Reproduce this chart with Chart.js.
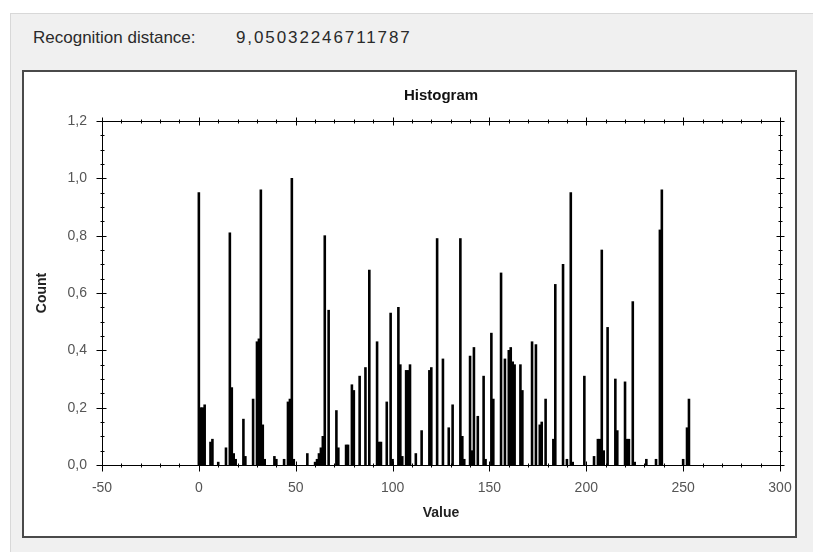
<!DOCTYPE html>
<html>
<head>
<meta charset="utf-8">
<script src="https://cdn.jsdelivr.net/npm/chart.js@4.4.1/dist/chart.umd.min.js"></script>
<style>
  html, body { margin: 0; padding: 0; background: #fff; }
  #fondo {
    position: absolute; left: 10px; top: 13px; width: 803px; height: 539px;
    background: #f0f0f0; border-left: 1px solid #d8d8d8; border-top: 1px solid #d8d8d8;
  }
  .texto {
    position: absolute; top: 28px;
    font-family: "Liberation Sans", Arial, sans-serif; font-size: 17px; color: #2a2a2a;
    white-space: pre;
  }
  #etiqueta { left: 33px; }
  #numero { left: 236px; letter-spacing: 1.9px; }
  #panel {
    position: absolute; left: 22px; top: 70px; width: 771px; height: 464px;
    background: #fff; border: 2px solid #4a4a4a;
  }
  #panel canvas { display: block; }
</style>
</head>
<body>
<div id="fondo"></div>
<div class="texto" id="etiqueta">Recognition distance:</div>
<div class="texto" id="numero">9,05032246711787</div>
<div id="panel"><canvas id="chartHist" width="771" height="464"></canvas></div>
<script>
// bins (value) and normalized counts
const valores = [
  0, 1, 2, 3, 6, 7, 10, 14, 16, 17, 18, 19, 23, 24, 28, 30, 31, 32, 33, 34,
  39, 40, 44, 46, 47, 48, 49, 56, 60, 61, 62, 63, 64, 65, 67, 71, 72, 76, 77, 79,
  80, 83, 86, 88, 92, 93, 94, 97, 99, 100, 103, 104, 105, 107, 108, 109, 112, 115, 119, 120,
  123, 126, 129, 131, 135, 136, 137, 140, 141, 142, 144, 147, 148, 151, 152, 156, 158, 160, 161, 162,
  163, 166, 167, 172, 174, 176, 177, 179, 183, 184, 188, 190, 192, 193, 199, 204, 206, 207, 208, 209,
  211, 215, 216, 220, 221, 222, 224, 225, 231, 236, 238, 239, 250, 252, 253
];
const conteos = [
  0.95, 0.20, 0.20, 0.21, 0.08, 0.09, 0.01, 0.06, 0.81, 0.27, 0.04, 0.02, 0.16, 0.03, 0.23, 0.43, 0.44, 0.96, 0.14, 0.02,
  0.03, 0.02, 0.02, 0.22, 0.23, 1.00, 0.02, 0.04, 0.01, 0.02, 0.04, 0.06, 0.10, 0.80, 0.54, 0.19, 0.06, 0.07, 0.07, 0.28,
  0.26, 0.31, 0.34, 0.68, 0.43, 0.08, 0.08, 0.22, 0.53, 0.02, 0.55, 0.35, 0.03, 0.33, 0.33, 0.35, 0.04, 0.12, 0.33, 0.34,
  0.79, 0.37, 0.13, 0.21, 0.79, 0.10, 0.02, 0.38, 0.05, 0.41, 0.17, 0.31, 0.02, 0.46, 0.23, 0.67, 0.37, 0.40, 0.41, 0.36,
  0.35, 0.35, 0.26, 0.43, 0.42, 0.14, 0.15, 0.23, 0.09, 0.63, 0.70, 0.02, 0.95, 0.01, 0.31, 0.03, 0.09, 0.09, 0.75, 0.05,
  0.48, 0.30, 0.12, 0.29, 0.09, 0.09, 0.57, 0.01, 0.02, 0.02, 0.82, 0.96, 0.02, 0.13, 0.23
];

const EJE_X = { min: -50, max: 300, paso: 50, menor: 10 };
const EJE_Y = { min: 0, max: 1.2, paso: 0.2, menor: 0.05 };

const FUENTE = '"Liberation Sans", Arial, sans-serif';

// marco del area de grafico con marcas mayores y menores en los cuatro lados
const marcoConMarcas = {
  id: 'marcoConMarcas',
  afterDatasetsDraw(chart) {
    const { ctx, chartArea: a, scales: { x, y } } = chart;
    ctx.save();
    ctx.strokeStyle = '#000';
    ctx.lineWidth = 1;
    const L = Math.round(a.left) + 0.5, R = Math.round(a.right) + 0.5;
    const T = Math.round(a.top) + 0.5, B = Math.round(a.bottom) + 0.5;
    ctx.strokeRect(L, T, R - L, B - T);

    ctx.beginPath();
    for (let v = EJE_X.min; v <= EJE_X.max + 1e-6; v += EJE_X.menor) {
      const px = Math.round(x.getPixelForValue(v)) + 0.5;
      const largo = (v % EJE_X.paso === 0) ? 4 : 2;
      ctx.moveTo(px, B - largo); ctx.lineTo(px, B + largo + (largo === 4 ? 2 : 0));
      ctx.moveTo(px, T - largo); ctx.lineTo(px, T + largo);
    }
    for (let i = 0; i <= Math.round((EJE_Y.max - EJE_Y.min) / EJE_Y.menor); i++) {
      const v = EJE_Y.min + i * EJE_Y.menor;
      const py = Math.round(y.getPixelForValue(v)) + 0.5;
      const largo = (i % 4 === 0) ? 4 : 2;
      ctx.moveTo(L - largo - (largo === 4 ? 2 : 0), py); ctx.lineTo(L + largo, py);
      ctx.moveTo(R - largo, py); ctx.lineTo(R + largo, py);
    }
    ctx.stroke();
    ctx.restore();
  }
};

window.onload = () => {
  const puntos = valores.map((v, i) => ({ x: v, y: conteos[i] }));

  new Chart(document.getElementById('chartHist'), {
    type: 'bar',
    data: {
      datasets: [{
        label: 'Count',
        data: puntos,
        backgroundColor: '#000',
        borderWidth: 0,
        barPercentage: 1,
        categoryPercentage: 1
      }]
    },
    options: {
      responsive: false,
      animation: false,
      layout: { padding: { left: 0, right: 15, top: 0, bottom: 0 } },
      plugins: {
        legend: { display: false },
        tooltip: { enabled: false },
        title: {
          display: true,
          fullSize: false,
          text: 'Histogram',
          color: '#111',
          font: { family: FUENTE, size: 15, weight: 'bold' },
          padding: { top: 15, bottom: 16 }
        }
      },
      scales: {
        x: {
          type: 'linear',
          min: EJE_X.min,
          max: EJE_X.max,
          offset: false,
          grid: { display: false, drawTicks: false },
          border: { display: false },
          ticks: {
            stepSize: EJE_X.paso,
            color: '#555',
            padding: 15,
            maxRotation: 0,
            font: { family: FUENTE, size: 14 }
          },
          title: {
            display: true,
            text: 'Value',
            color: '#222',
            font: { family: FUENTE, size: 14, weight: 'bold' },
            padding: { top: 14, bottom: 14 }
          },
          afterFit: (escala) => {
            escala.height = 71;
            escala.paddingLeft = 0;
            escala.paddingRight = 0;
          }
        },
        y: {
          min: EJE_Y.min,
          max: EJE_Y.max,
          grid: { display: false, drawTicks: false },
          border: { display: false },
          ticks: {
            stepSize: EJE_Y.paso,
            color: '#555',
            padding: 15,
            font: { family: FUENTE, size: 14 },
            callback: (v) => v.toFixed(1).replace('.', ',')
          },
          title: {
            display: true,
            text: 'Count',
            color: '#222',
            font: { family: FUENTE, size: 14, weight: 'bold' },
            padding: { top: 10, bottom: 10 }
          },
          afterFit: (escala) => { escala.width = 78; }
        }
      }
    },
    plugins: [marcoConMarcas]
  });
};
</script>
</body>
</html>
